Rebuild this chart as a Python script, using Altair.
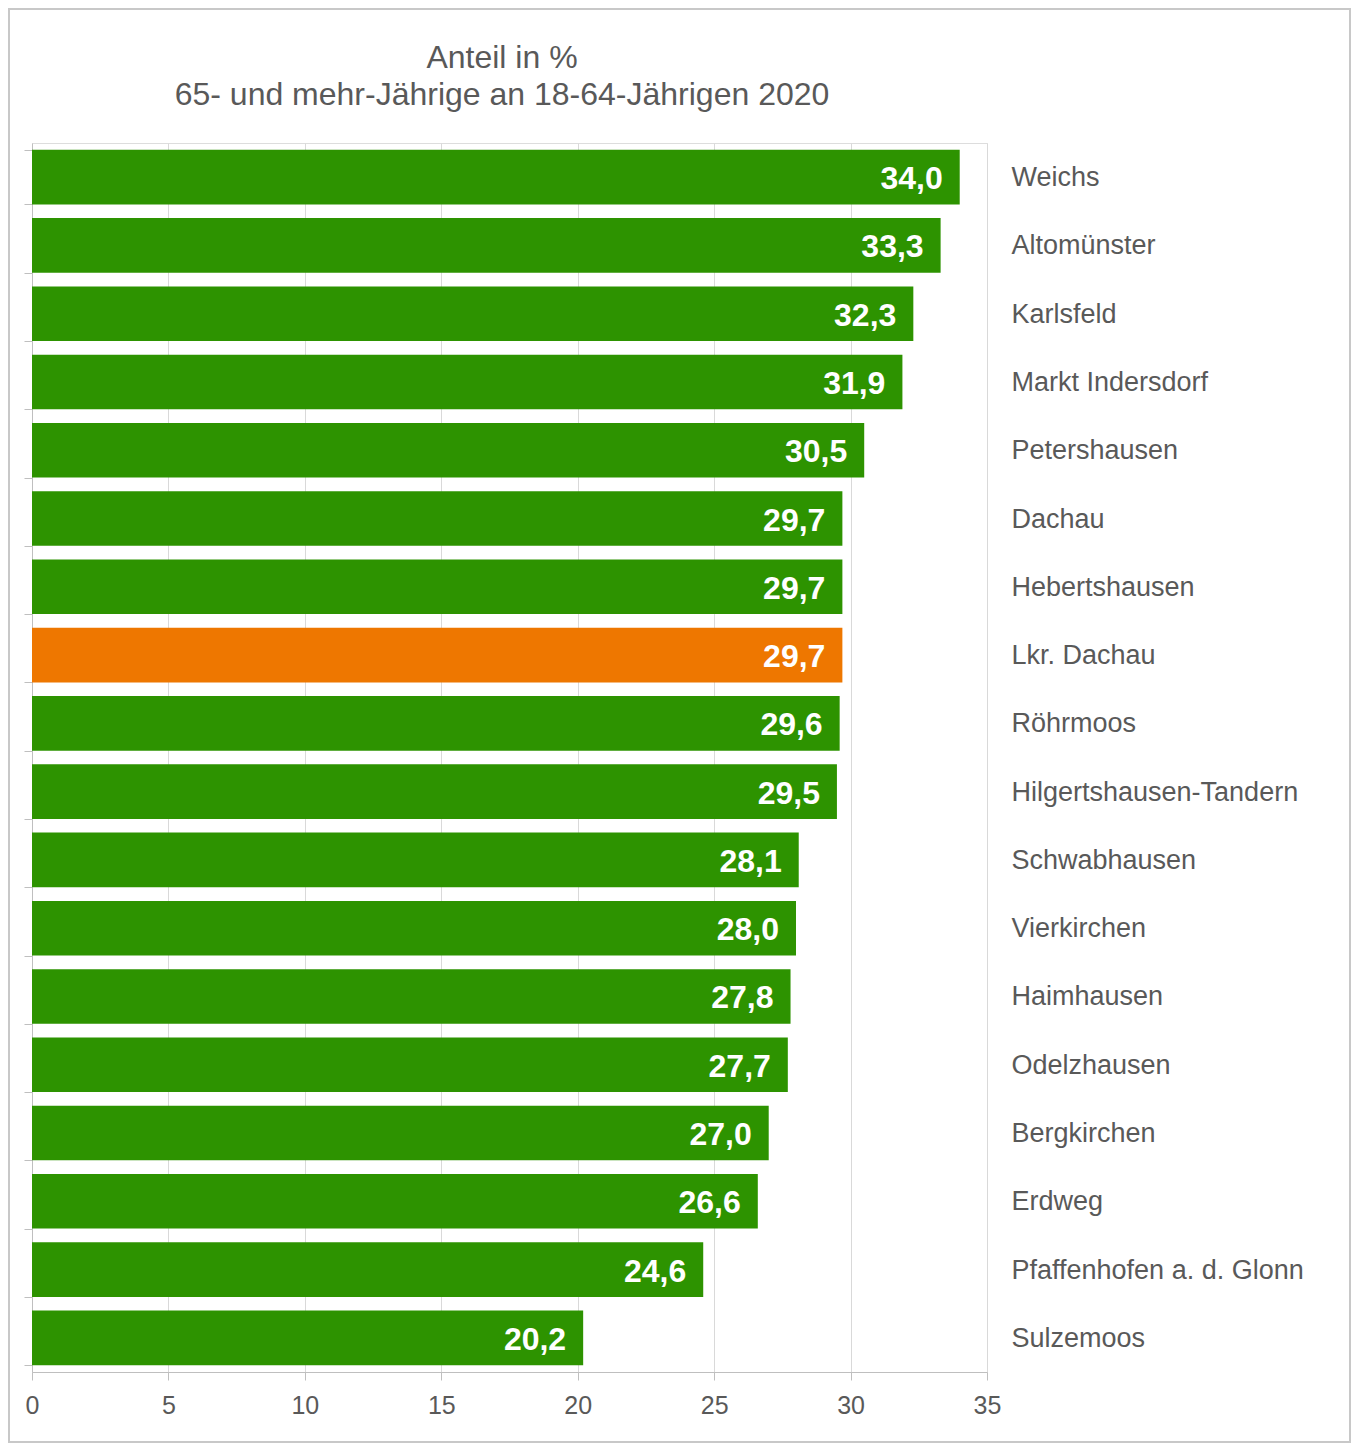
import altair as alt
import pandas as pd

gemeinden = ["Weichs", "Altomünster", "Karlsfeld", "Markt Indersdorf", "Petershausen",
             "Dachau", "Hebertshausen", "Lkr. Dachau", "Röhrmoos", "Hilgertshausen-Tandern",
             "Schwabhausen", "Vierkirchen", "Haimhausen", "Odelzhausen", "Bergkirchen",
             "Erdweg", "Pfaffenhofen a. d. Glonn", "Sulzemoos"]
anteil = [34.0, 33.3, 32.3, 31.9, 30.5, 29.7, 29.7, 29.7, 29.6, 29.5,
          28.1, 28.0, 27.8, 27.7, 27.0, 26.6, 24.6, 20.2]
gruppe = ["Landkreis" if g == "Lkr. Dachau" else "Gemeinde" for g in gemeinden]
titel = ["Anteil in %", "65- und mehr-Jährige an 18-64-Jährigen 2020"]

df = pd.DataFrame({"Gemeinde": gemeinden, "Anteil": anteil, "Gruppe": gruppe})

FONT = "Liberation Sans"
GRAY = "#595959"

x_axis = alt.Axis(values=[0, 5, 10, 15, 20, 25, 30, 35], grid=True, gridColor="#d9d9d9",
                  domainColor="#bfbfbf", tickColor="#bfbfbf", tickSize=8, labelPadding=13,
                  labelFlush=False, labelFontSize=25, labelColor=GRAY, labelFont=FONT,
                  title=None)
xs = alt.X("Anteil:Q", scale=alt.Scale(domain=[0, 35], nice=False), axis=x_axis)
yscale = alt.Scale(paddingInner=0.2, paddingOuter=0.1)

base = alt.Chart(df)

bars = base.mark_bar().encode(
    x=xs,
    y=alt.Y("Gemeinde:N", sort=gemeinden, scale=yscale,
            axis=alt.Axis(orient="left", labels=False, ticks=True, tickBand="extent",
                          tickSize=8, tickColor="#bfbfbf", domain=True, domainColor="#bfbfbf",
                          title=None)),
    color=alt.Color("Gruppe:N", scale=alt.Scale(domain=["Gemeinde", "Landkreis"],
                                                range=["#2d9300", "#ee7700"]), legend=None),
)

labels = base.transform_calculate(
    txt="replace(format(datum.Anteil, '.1f'), '.', ',')"
).mark_text(align="right", baseline="middle", dx=-17, dy=2, color="white",
            fontWeight="bold", fontSize=32, font=FONT).encode(
    x=xs,
    y=alt.Y("Gemeinde:N", sort=gemeinden, scale=yscale,
            axis=alt.Axis(orient="right", ticks=False, domain=False, labelPadding=24,
                          labelAlign="left", labelFontSize=27, labelColor=GRAY,
                          labelOffset=1, labelFont=FONT, labelLimit=500, title=None)),
    text="txt:N",
)

one = pd.DataFrame({"a": [0]})
frame = alt.Chart(one).mark_rect(
    filled=False, stroke="#c8c8c8", strokeWidth=2
).encode(x=alt.value(-23), x2=alt.value(1318), y=alt.value(-134), y2=alt.value(1299))

title1 = alt.Chart(one).mark_text(fontSize=32, font=FONT, color=GRAY, baseline="middle",
                                  align="center").encode(
    x=alt.value(470), y=alt.value(-85), text=alt.value(titel[0]))
title2 = alt.Chart(one).mark_text(fontSize=32, font=FONT, color=GRAY, baseline="middle",
                                  align="center").encode(
    x=alt.value(470), y=alt.value(-48), text=alt.value(titel[1]))

chart = alt.layer(frame, title1, title2, bars, labels).resolve_axis(y="independent").properties(
    width=955, height=1229,
    autosize=alt.AutoSizeParams(type="none"),
    padding={"left": 24, "top": 135, "right": 364, "bottom": 72},
).configure_view(stroke="#d0d0d0").configure(background="white")

chart.save("out.html", embed_options={"renderer": "svg", "actions": False})
